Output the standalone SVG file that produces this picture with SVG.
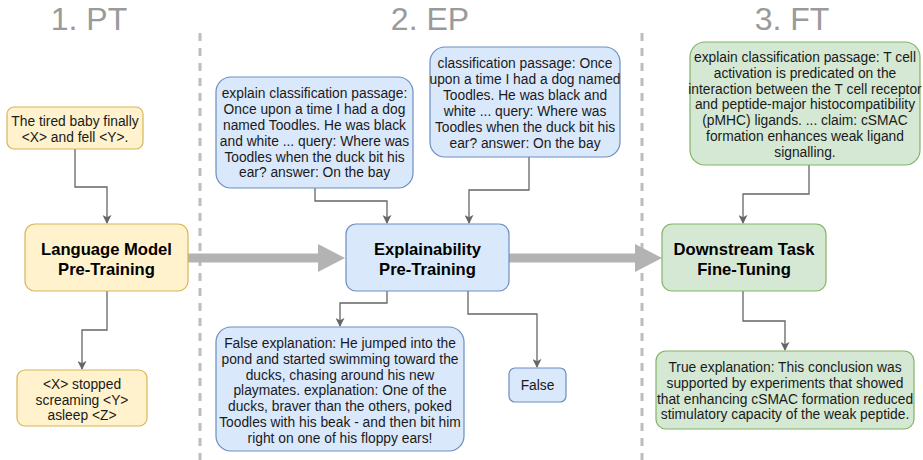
<svg xmlns="http://www.w3.org/2000/svg" width="923" height="460" viewBox="0 0 923 460">
  <defs>
    <marker id="arrow" viewBox="0 0 10 10" refX="9" refY="5" markerWidth="9" markerHeight="9" markerUnits="userSpaceOnUse" orient="auto">
      <path d="M0,0 L10,5 L0,10 L2.5,5 Z" fill="#666666"/>
    </marker>
    <style>
      .title { font-family: "Liberation Sans", Arial, sans-serif; font-size: 32px; fill: #9a9a9a; text-anchor: middle; }
      .txt { font-family: "Liberation Sans", Arial, sans-serif; font-size: 13.8px; fill: #1a1a1a; text-anchor: middle; }
      .bold { font-family: "Liberation Sans", Arial, sans-serif; font-size: 16.6px; font-weight: bold; fill: #000000; text-anchor: middle; }
      .yellow { fill: #fff2cc; stroke: #d6b656; stroke-width: 1.2; }
      .blue { fill: #dae8fc; stroke: #6c8ebf; stroke-width: 1.2; }
      .green { fill: #d5e8d4; stroke: #82b366; stroke-width: 1.2; }
      .divider { stroke: #bdbdbd; stroke-width: 3; stroke-dasharray: 8 7; fill: none; }
      .edge { stroke: #666666; stroke-width: 1.3; fill: none; marker-end: url(#arrow); }
      .flow { fill: #b3b3b3; stroke: none; }
    </style>
  </defs>

  <rect width="923" height="460" fill="#ffffff"/>

  <!-- Stage headings -->
  <text class="title" x="89" y="30">1. PT</text>
  <text class="title" x="430" y="30">2. EP</text>
  <text class="title" x="792" y="30">3. FT</text>

  <!-- Stage dividers -->
  <line class="divider" x1="200" y1="33" x2="200" y2="460"/>
  <line class="divider" x1="642" y1="33" x2="642" y2="460"/>

  <!-- Connectors -->
  <g id="connectors">
    <!-- main flow between stages -->
    <path class="flow" d="M188,253.5 L318,253.5 L318,244 L345,258 L318,272 L318,262.5 L188,262.5 Z"/>
    <path class="flow" d="M509,253.5 L635,253.5 L635,244 L662,258 L635,272 L635,262.5 L509,262.5 Z"/>
    <!-- stage 1 -->
    <path class="edge" d="M75,149 L75,187 L107,187 L107,223"/>
    <path class="edge" d="M107,291 L107,330 L82,330 L82,369"/>
    <!-- stage 2 -->
    <path class="edge" d="M315,188 L315,201 L387,201 L387,223"/>
    <path class="edge" d="M529,157 L529,190 L469,190 L469,223"/>
    <path class="edge" d="M387,291 L387,303 L340,303 L340,326"/>
    <path class="edge" d="M468,291 L468,314 L537,314 L537,367"/>
    <!-- stage 3 -->
    <path class="edge" d="M809,165 L809,194 L743,194 L743,223"/>
    <path class="edge" d="M743,291 L743,321 L785,321 L785,350"/>
  </g>

  <!-- Stage 1: pre-training -->
  <g id="pt-input">
    <rect class="yellow" x="7" y="107" width="136" height="42" rx="7"/>
    <text class="txt" x="75" y="126">The tired baby finally</text>
    <text class="txt" x="75" y="142">&lt;X&gt; and fell &lt;Y&gt;.</text>
  </g>
  <g id="pt-model">
    <rect class="yellow" x="25" y="224" width="163" height="67" rx="10"/>
    <text class="bold" x="106.5" y="255">Language Model</text>
    <text class="bold" x="106.5" y="274.5">Pre-Training</text>
  </g>
  <g id="pt-output">
    <rect class="yellow" x="17" y="370" width="130" height="56" rx="8"/>
    <text class="txt" x="82" y="389">&lt;X&gt; stopped</text>
    <text class="txt" x="82" y="405">screaming &lt;Y&gt;</text>
    <text class="txt" x="82" y="419.5">asleep &lt;Z&gt;</text>
  </g>

  <!-- Stage 2: explainability pre-training -->
  <g id="ep-input-explain">
    <rect class="blue" x="216" y="77" width="197" height="111" rx="15"/>
    <text class="txt" x="314.5" y="98">explain classification passage:</text>
    <text class="txt" x="314.5" y="114">Once upon a time I had a dog</text>
    <text class="txt" x="314.5" y="130">named Toodles. He was black</text>
    <text class="txt" x="314.5" y="146">and white ... query: Where was</text>
    <text class="txt" x="314.5" y="161.5">Toodles when the duck bit his</text>
    <text class="txt" x="314.5" y="177">ear? answer: On the bay</text>
  </g>
  <g id="ep-input-classify">
    <rect class="blue" x="430" y="47" width="190" height="110" rx="15"/>
    <text class="txt" x="525" y="68">classification passage: Once</text>
    <text class="txt" x="525" y="84">upon a time I had a dog named</text>
    <text class="txt" x="525" y="100">Toodles. He was black and</text>
    <text class="txt" x="525" y="116">white ... query: Where was</text>
    <text class="txt" x="525" y="131.5">Toodles when the duck bit his</text>
    <text class="txt" x="525" y="147.5">ear? answer: On the bay</text>
  </g>
  <g id="ep-model">
    <rect class="blue" x="346" y="224" width="163" height="67" rx="10"/>
    <text class="bold" x="427.5" y="255">Explainability</text>
    <text class="bold" x="427.5" y="275">Pre-Training</text>
  </g>
  <g id="ep-output-explanation">
    <rect class="blue" x="216" y="327" width="248" height="124" rx="15"/>
    <text class="txt" x="340" y="348">False explanation: He jumped into the</text>
    <text class="txt" x="340" y="363.5">pond and started swimming toward the</text>
    <text class="txt" x="340" y="379.5">ducks, chasing around his new</text>
    <text class="txt" x="340" y="395">playmates. explanation: One of the</text>
    <text class="txt" x="340" y="410.5">ducks, braver than the others, poked</text>
    <text class="txt" x="340" y="426.5">Toodles with his beak - and then bit him</text>
    <text class="txt" x="340" y="442.5">right on one of his floppy ears!</text>
  </g>
  <g id="ep-output-label">
    <rect class="blue" x="509" y="368" width="57" height="34" rx="6"/>
    <text class="txt" x="537.5" y="390">False</text>
  </g>

  <!-- Stage 3: fine-tuning -->
  <g id="ft-input">
    <rect class="green" x="690" y="42" width="230" height="123" rx="15"/>
    <text class="txt" x="805" y="62">explain classification passage: T cell</text>
    <text class="txt" x="805" y="77.5">activation is predicated on the</text>
    <text class="txt" x="805" y="93.5">interaction between the T cell receptor</text>
    <text class="txt" x="805" y="109">and peptide-major histocompatibility</text>
    <text class="txt" x="805" y="125">(pMHC) ligands. ... claim: cSMAC</text>
    <text class="txt" x="805" y="141">formation enhances weak ligand</text>
    <text class="txt" x="805" y="156.5">signalling.</text>
  </g>
  <g id="ft-model">
    <rect class="green" x="662" y="224" width="164" height="67" rx="10"/>
    <text class="bold" x="744" y="255">Downstream Task</text>
    <text class="bold" x="744" y="275">Fine-Tuning</text>
  </g>
  <g id="ft-output">
    <rect class="green" x="656" y="351" width="258" height="78" rx="10"/>
    <text class="txt" x="785" y="372">True explanation: This conclusion was</text>
    <text class="txt" x="785" y="388">supported by experiments that showed</text>
    <text class="txt" x="785" y="404">that enhancing cSMAC formation reduced</text>
    <text class="txt" x="785" y="419">stimulatory capacity of the weak peptide.</text>
  </g>
</svg>
